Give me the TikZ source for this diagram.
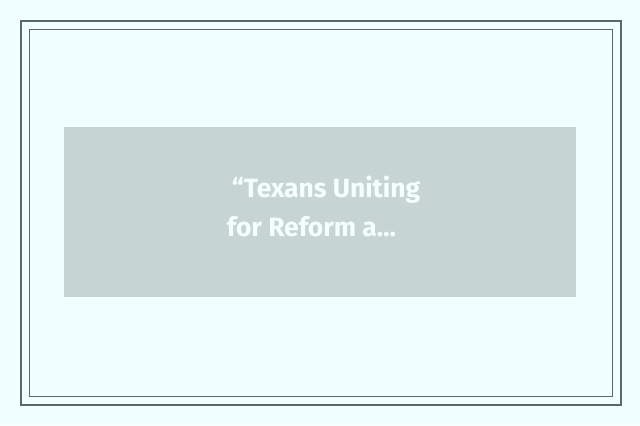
\documentclass[tikz,border=0pt]{standalone}
\usepackage{fontspec}
\setmainfont{Fira Sans}
\definecolor{pagebg}{HTML}{F0FFFF}
\definecolor{frameline}{HTML}{5A6A6A}
\definecolor{cardfill}{HTML}{C7D4D4}
\definecolor{cardtext}{HTML}{F6FFFF}
\begin{document}
\begin{tikzpicture}[x=1bp,y=1bp]
\tikzstyle{every node}+=[inner sep=0pt]
\tikzstyle{cardline}=[text=cardtext,font=\fontsize{26.5}{32}\selectfont\bfseries,anchor=base]
\fill [pagebg] (0,0) rectangle (640,425);
\useasboundingbox (0,0) rectangle (640,425);
\draw [frameline,line width=2bp] (21,20) rectangle (621,404);
\draw [frameline,line width=1bp] (29.5,28.5) rectangle (612,395.5);
\fill [cardfill] (64,128) rectangle (576,298);
\node [cardline] (line1) at (326,228) {“Texans Uniting};
\node [cardline] (line2) at (311.5,189) {for Reform a…};
\end{tikzpicture}
\end{document}
